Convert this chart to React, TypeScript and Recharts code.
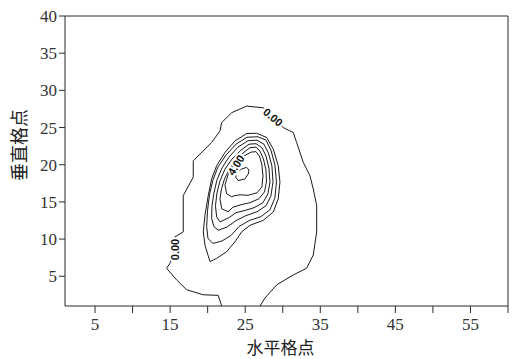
import React from 'react';
import { ScatterChart, Scatter, XAxis, YAxis, ReferenceLine } from 'recharts';

// Grid extent and axis ticks
const xTicks = [5, 10, 15, 20, 25, 30, 35, 40, 45, 50, 55, 60];
const xLabelled = [5, 15, 25, 35, 45, 55];
const yTicks = [5, 10, 15, 20, 25, 30, 35, 40];

// 0.00 contour: open curve, enters and leaves through the bottom edge
const contourZero = [
  { x: 21.87, y: 1.0 }, { x: 21.41, y: 2.43 }, { x: 19.42, y: 2.51 }, { x: 17.2, y: 3.18 },
  { x: 15.87, y: 4.51 }, { x: 14.54, y: 6.07 }, { x: 14.98, y: 6.74 }, { x: 15.65, y: 8.6 },
  { x: 15.65, y: 10.31 }, { x: 16.75, y: 10.97 }, { x: 16.75, y: 15.86 }, { x: 18.08, y: 18.32 },
  { x: 18.08, y: 20.53 }, { x: 18.98, y: 21.43 }, { x: 20.53, y: 22.99 }, { x: 21.64, y: 24.54 },
  { x: 21.87, y: 25.66 }, { x: 23.2, y: 27.0 }, { x: 25.19, y: 27.88 }, { x: 27.4, y: 27.66 },
  { x: 28.7, y: 26.4 }, { x: 30.07, y: 24.99 }, { x: 31.4, y: 24.32 }, { x: 31.85, y: 22.99 },
  { x: 32.73, y: 20.32 }, { x: 33.62, y: 18.53 }, { x: 34.06, y: 16.75 }, { x: 34.52, y: 14.52 },
  { x: 34.52, y: 10.97 }, { x: 34.06, y: 7.85 }, { x: 33.18, y: 6.07 }, { x: 31.4, y: 5.18 },
  { x: 29.19, y: 3.84 }, { x: 27.63, y: 2.07 }, { x: 26.97, y: 1.0 },
];

// Nested closed contours, outermost first, ending with the 4.00 loop
const contour1 = [
  { x: 25.19, y: 24.19 }, { x: 23.64, y: 23.2 }, { x: 22.3, y: 21.65 }, { x: 21.2, y: 19.87 },
  { x: 20.53, y: 18.09 }, { x: 20.08, y: 15.86 }, { x: 19.64, y: 13.19 }, { x: 19.42, y: 10.97 },
  { x: 19.64, y: 9.18 }, { x: 20.31, y: 6.97 }, { x: 21.2, y: 7.41 }, { x: 22.53, y: 8.3 },
  { x: 23.64, y: 9.64 }, { x: 24.53, y: 10.97 }, { x: 25.63, y: 11.85 }, { x: 27.4, y: 12.52 },
  { x: 28.74, y: 13.64 }, { x: 29.4, y: 15.42 }, { x: 29.63, y: 17.65 }, { x: 29.4, y: 19.87 },
  { x: 28.74, y: 22.09 }, { x: 27.86, y: 23.66 }, { x: 26.53, y: 24.23 },
];
const contour2 = [
  { x: 25.24, y: 23.7 }, { x: 26.7, y: 23.76 }, { x: 27.77, y: 23.3 }, { x: 28.43, y: 21.96 },
  { x: 28.96, y: 19.96 }, { x: 29.16, y: 17.69 }, { x: 28.96, y: 15.55 }, { x: 28.3, y: 13.95 },
  { x: 27.1, y: 13.02 }, { x: 25.5, y: 12.48 }, { x: 24.17, y: 11.68 }, { x: 23.1, y: 10.48 },
  { x: 21.91, y: 9.75 }, { x: 20.71, y: 9.41 }, { x: 20.04, y: 10.08 }, { x: 19.87, y: 11.68 },
  { x: 19.98, y: 13.82 }, { x: 20.24, y: 15.95 }, { x: 20.71, y: 17.96 }, { x: 21.37, y: 19.69 },
  { x: 22.44, y: 21.29 }, { x: 23.77, y: 22.76 },
];
const contour3 = [
  { x: 25.37, y: 23.23 }, { x: 26.57, y: 23.3 }, { x: 27.5, y: 22.76 }, { x: 28.1, y: 21.56 },
  { x: 28.56, y: 19.83 }, { x: 28.7, y: 17.69 }, { x: 28.43, y: 15.82 }, { x: 27.77, y: 14.48 },
  { x: 26.57, y: 13.68 }, { x: 25.1, y: 13.15 }, { x: 23.77, y: 12.48 }, { x: 22.57, y: 11.61 },
  { x: 21.41, y: 11.19 }, { x: 20.84, y: 11.68 }, { x: 20.53, y: 12.75 }, { x: 20.57, y: 14.48 },
  { x: 20.84, y: 16.22 }, { x: 21.24, y: 17.96 }, { x: 21.91, y: 19.56 }, { x: 22.84, y: 21.03 },
  { x: 24.04, y: 22.36 },
];
const contour4 = [
  { x: 25.5, y: 22.76 }, { x: 26.43, y: 22.83 }, { x: 27.23, y: 22.29 }, { x: 27.77, y: 21.16 },
  { x: 28.16, y: 19.56 }, { x: 28.3, y: 17.69 }, { x: 28.03, y: 16.09 }, { x: 27.37, y: 14.89 },
  { x: 26.17, y: 14.22 }, { x: 24.84, y: 13.82 }, { x: 23.77, y: 13.55 }, { x: 22.84, y: 12.88 },
  { x: 21.64, y: 12.31 }, { x: 21.2, y: 12.98 }, { x: 21.04, y: 14.48 }, { x: 21.24, y: 16.22 },
  { x: 21.64, y: 17.82 }, { x: 22.31, y: 19.42 }, { x: 23.24, y: 20.76 }, { x: 24.44, y: 21.96 },
];
const contour5 = [
  { x: 25.63, y: 22.29 }, { x: 26.43, y: 22.36 }, { x: 26.97, y: 21.83 }, { x: 27.43, y: 20.76 },
  { x: 27.77, y: 19.29 }, { x: 27.83, y: 17.69 }, { x: 27.57, y: 16.35 }, { x: 26.83, y: 15.42 },
  { x: 25.63, y: 14.89 }, { x: 24.44, y: 14.62 }, { x: 23.37, y: 14.28 }, { x: 22.71, y: 13.68 },
  { x: 21.87, y: 14.08 }, { x: 21.64, y: 15.42 }, { x: 21.84, y: 16.75 }, { x: 22.24, y: 18.09 },
  { x: 22.84, y: 19.29 }, { x: 23.64, y: 20.49 }, { x: 24.7, y: 21.56 },
];
const contour6 = [
  { x: 25.77, y: 21.69 }, { x: 26.43, y: 21.76 }, { x: 26.9, y: 21.16 }, { x: 27.23, y: 19.96 },
  { x: 27.37, y: 18.49 }, { x: 27.23, y: 17.02 }, { x: 26.57, y: 16.22 }, { x: 25.37, y: 15.89 },
  { x: 24.3, y: 15.95 }, { x: 23.5, y: 15.82 }, { x: 23.2, y: 15.69 }, { x: 22.53, y: 16.09 },
  { x: 22.31, y: 17.29 }, { x: 22.71, y: 18.62 }, { x: 23.37, y: 19.83 }, { x: 24.3, y: 20.89 },
];
const contour7 = [
  { x: 23.86, y: 18.98 }, { x: 24.53, y: 19.42 }, { x: 25.19, y: 19.65 }, { x: 25.5, y: 19.29 },
  { x: 25.41, y: 18.76 }, { x: 24.97, y: 18.09 }, { x: 24.08, y: 17.86 }, { x: 23.73, y: 18.32 },
];

// Contour value labels
const contourLabels = [
  { x: 15.65, y: 8.6, text: '0.00', angle: -90 },
  { x: 28.7, y: 26.4, text: '0.00', angle: 40 },
  { x: 23.77, y: 19.96, text: '4.00', angle: -57 },
];

const closedLoops = [contour1, contour2, contour3, contour4, contour5, contour6, contour7];
const closeLoop = (pts: { x: number; y: number }[]) => [...pts, pts[0]];

const LINE = '#1a1a1a';
const AXIS = '#2a2a2a';
const serif = '"Liberation Serif", "Times New Roman", serif';
const cjk = '"Noto Sans CJK SC", sans-serif';

const NoPoint = () => <g />;

const ValueLabel = (props: any) => {
  const { cx, cy, payload } = props;
  if (cx == null || cy == null) return <g />;
  return (
    <text
      x={cx}
      y={cy}
      transform={`rotate(${payload.angle}, ${cx}, ${cy})`}
      textAnchor="middle"
      dominantBaseline="central"
      fontFamily='"Liberation Sans", Arial, sans-serif'
      fontWeight="bold"
      fontSize={11}
      fill="#111"
      stroke="#fff"
      strokeWidth={4}
      paintOrder="stroke"
    >
      {payload.text}
    </text>
  );
};

const XTitle = (props: any) => {
  const vb = props.viewBox || {};
  return (
    <text x={vb.x + vb.width / 2 - 6} y={346} textAnchor="middle" dominantBaseline="central" fontFamily={cjk} fontSize={17} fill="#222">
      水平格点
    </text>
  );
};

const YTitle = (props: any) => {
  const vb = props.viewBox || {};
  const cx = 18;
  const cy = vb.y + vb.height / 2 - 16;
  return (
    <text
      x={cx}
      y={cy}
      transform={`rotate(-90, ${cx}, ${cy})`}
      textAnchor="middle"
      dominantBaseline="central"
      fontFamily={cjk}
      fontSize={18}
      fill="#222"
    >
      垂直格点
    </text>
  );
};

export default function App() {
  return (
    <div style={{ position: 'absolute', left: 0, top: 0, width: 512, height: 359, background: '#fff' }}>
      <ScatterChart width={512} height={359} margin={{ top: 16, right: 4, bottom: 0, left: 0 }}>
        <XAxis
          type="number"
          dataKey="x"
          domain={[1, 60]}
          ticks={xTicks}
          interval={0}
          allowDataOverflow
          tickFormatter={(v: number) => (xLabelled.includes(v) ? String(v) : '')}
          tickSize={7}
          height={53}
          stroke={AXIS}
          tickLine={{ stroke: AXIS }}
          tick={{ fill: '#333', fontFamily: serif, fontSize: 17, dy: 3 }}
          label={{ content: <XTitle /> }}
        />
        <YAxis
          type="number"
          dataKey="y"
          domain={[1, 40]}
          ticks={yTicks}
          interval={0}
          allowDataOverflow
          tickSize={6}
          width={65}
          stroke={AXIS}
          tickLine={{ stroke: AXIS }}
          tick={{ fill: '#333', fontFamily: serif, fontSize: 17 }}
          label={{ content: <YTitle /> }}
        />
        <ReferenceLine y={40} stroke={AXIS} />
        <ReferenceLine x={60} stroke={AXIS} />
        <Scatter
          data={contourZero}
          line={{ stroke: LINE, strokeWidth: 1 }}
          lineType="joint"
          shape={NoPoint}
          isAnimationActive={false}
        />
        {closedLoops.map((pts, i) => (
          <Scatter
            key={i}
            data={closeLoop(pts)}
            line={{ stroke: LINE, strokeWidth: 1 }}
            lineType="joint"
            shape={NoPoint}
            isAnimationActive={false}
          />
        ))}
        <Scatter data={contourLabels} shape={ValueLabel} isAnimationActive={false} />
      </ScatterChart>
    </div>
  );
}
